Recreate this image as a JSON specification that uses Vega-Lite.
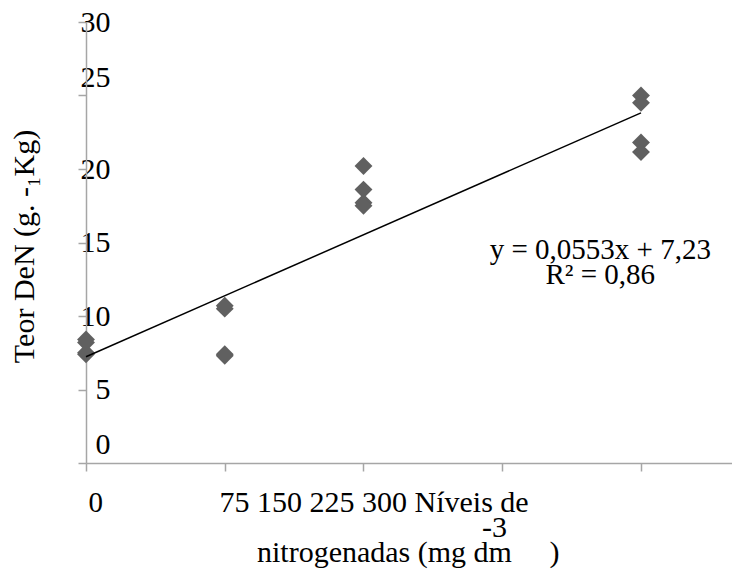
{
  "$schema": "https://vega.github.io/schema/vega-lite/v6.json",
  "width": 646,
  "height": 441,
  "autosize": {"type": "none"},
  "padding": {"left": 86, "top": 22, "right": 0, "bottom": 108},
  "background": "white",
  "config": {"view": {"stroke": null}, "font": "Liberation Serif"},
  "datasets": {
    "points": [
      {"nitrogen": 0, "teor": 8.4},
      {"nitrogen": 0, "teor": 8.2},
      {"nitrogen": 0, "teor": 7.5},
      {"nitrogen": 0, "teor": 7.4},
      {"nitrogen": 75, "teor": 10.7},
      {"nitrogen": 75, "teor": 10.5},
      {"nitrogen": 75, "teor": 7.4},
      {"nitrogen": 75, "teor": 7.3},
      {"nitrogen": 150, "teor": 20.2},
      {"nitrogen": 150, "teor": 18.6},
      {"nitrogen": 150, "teor": 17.7},
      {"nitrogen": 150, "teor": 17.5},
      {"nitrogen": 300, "teor": 25.0},
      {"nitrogen": 300, "teor": 24.5},
      {"nitrogen": 300, "teor": 21.8},
      {"nitrogen": 300, "teor": 21.15}
    ],
    "trend": [
      {"nitrogen": 0, "teor": 7.23},
      {"nitrogen": 300, "teor": 23.82}
    ],
    "equation": [
      {"nitrogen": 278, "teor": 13.9, "label": "y = 0,0553x + 7,23"},
      {"nitrogen": 278, "teor": 12.2, "label": "R² = 0,86"}
    ]
  },
  "encoding": {
    "x": {
      "field": "nitrogen",
      "type": "quantitative",
      "scale": {"domain": [0, 349.2], "nice": false, "zero": false},
      "axis": {
        "values": [0, 75, 150, 225, 300],
        "grid": false,
        "tickSize": 8,
        "tickColor": "#a6a6a6",
        "tickWidth": 1.5,
        "domainColor": "#a6a6a6",
        "domainWidth": 1.5,
        "labelExpr": "datum.value == 0 ? '0' : ''",
        "labelAlign": "left",
        "labelOffset": 2,
        "labelBaseline": "alphabetic",
        "labelPadding": 40,
        "labelFont": "Liberation Serif",
        "labelFontSize": 29,
        "labelColor": "black",
        "labelFlush": false,
        "labelOverlap": false,
        "title": [
          "75 150 225 300 Níveis de",
          "\u200b\u00a0\u00a0\u00a0\u00a0\u00a0\u00a0\u00a0\u00a0\u00a0\u00a0\u00a0\u00a0\u00a0\u00a0\u00a0\u00a0\u00a0\u00a0\u00a0\u00a0\u00a0\u00a0\u00a0\u00a0\u00a0\u00a0\u00a0\u00a0\u00a0\u00a0\u00a0\u00a0\u00a0\u00a0\u00a0-3",
          "\u200b\u00a0\u00a0\u00a0\u00a0\u00a0nitrogenadas (mg dm\u00a0\u00a0\u00a0\u00a0\u00a0)"
        ],
        "titleFont": "Liberation Serif",
        "titleFontSize": 30,
        "titleFontWeight": "normal",
        "titleColor": "black",
        "titleAlign": "left",
        "titleBaseline": "alphabetic",
        "titleX": 133,
        "titleY": 48,
        "titleLineHeight": 25
      }
    },
    "y": {
      "field": "teor",
      "type": "quantitative",
      "scale": {"domain": [0, 30], "nice": false, "zero": true},
      "axis": {
        "values": [0, 5, 10, 15, 20, 25, 30],
        "grid": false,
        "tickSize": 8,
        "tickColor": "#a6a6a6",
        "tickWidth": 1.5,
        "domainColor": "#a6a6a6",
        "domainWidth": 1.5,
        "labelAlign": "right",
        "labelBaseline": "middle",
        "labelPadding": -32,
        "labelOffset": {
          "condition": [
            {"test": "datum.value === 25", "value": -18},
            {"test": "datum.value === 0", "value": -19}
          ],
          "value": 0
        },
        "labelFont": "Liberation Serif",
        "labelFontSize": 30,
        "labelColor": "black",
        "labelFlush": false,
        "labelOverlap": false,
        "title": "Teor DeN (g. -₁Kg)",
        "titleFont": "Liberation Serif",
        "titleFontSize": 30,
        "titleFontWeight": "normal",
        "titleColor": "black",
        "titleAngle": 270,
        "titleAlign": "center",
        "titleBaseline": "alphabetic",
        "titleX": -53,
        "titleY": 224
      }
    }
  },
  "layer": [
    {
      "data": {"name": "points"},
      "mark": {"type": "point", "shape": "diamond", "filled": true, "size": 320, "color": "#606060", "opacity": 1}
    },
    {
      "data": {"name": "trend"},
      "mark": {"type": "line", "color": "black", "strokeWidth": 1.5}
    },
    {
      "data": {"name": "equation"},
      "mark": {"type": "text", "font": "Liberation Serif", "fontSize": 29, "align": "center", "baseline": "alphabetic", "color": "black"},
      "encoding": {"text": {"field": "label", "type": "nominal"}}
    }
  ]
}
